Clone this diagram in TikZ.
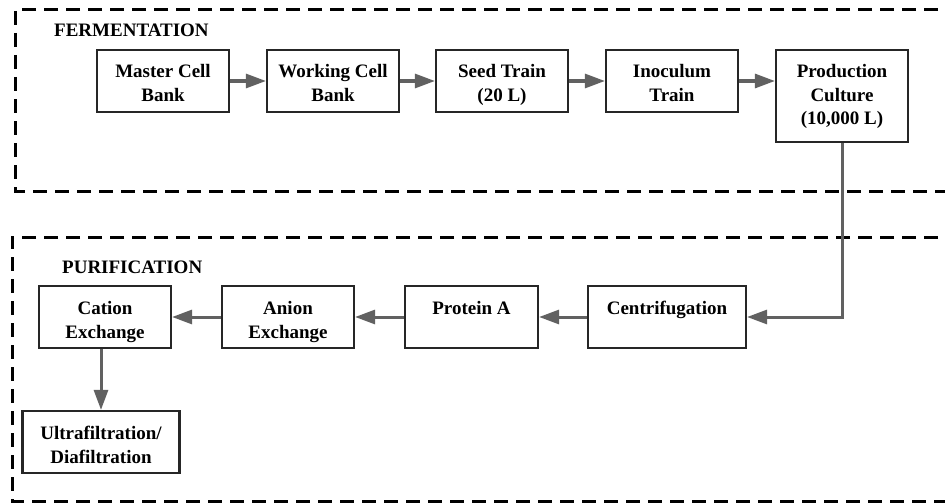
\documentclass[tikz,border=0pt]{standalone}
\usepackage{fontspec}
\setmainfont{Liberation Serif}
\usetikzlibrary{arrows.meta,calc}
\begin{document}
\begin{tikzpicture}[x=1pt,y=-1pt,
  stagebox/.style={draw=black!85, line width=2.2pt, minimum width=132pt, minimum height=62pt, inner sep=0pt},
  stagetext/.style={anchor=north, align=center, inner sep=0pt, font=\fontsize{19}{23.5}\selectfont\bfseries},
  flow/.style={draw=black!62, line width=3pt, -{Triangle[length=20pt,width=14pt]}},
  groupframe/.style={draw=black, line width=3pt, dash pattern=on 14pt off 8pt},
  grouplabel/.style={anchor=base west, inner sep=0pt, font=\fontsize{19}{23.5}\selectfont\bfseries}]
\useasboundingbox (0,0) rectangle (945,503);
\clip (0,0) rectangle (945,503);
\fill[white] (0,0) rectangle (945,503);

% group frames
\draw[groupframe] (960,10) -- (15,10) -- (15,191) -- (960,191);
\draw[groupframe] (960,237) -- (12,237) -- (12,501) -- (960,501);
\node[grouplabel] (lfer) at (54,37) {FERMENTATION};
\node[grouplabel] (lpur) at (62,273) {PURIFICATION};

% fermentation boxes
\node[stagebox] (mcb) at (163,81) {};
\node[stagebox] (wcb) at (333,81) {};
\node[stagebox] (seed) at (502,81) {};
\node[stagebox] (inoc) at (672,81) {};
\node[stagebox, minimum height=92pt] (prod) at (842,96) {};

\node[stagetext] (tmcb) at ($(mcb.north)+(0,12)$) {\strut Master Cell\\Bank};
\node[stagetext] (twcb) at ($(wcb.north)+(0,12)$) {\strut Working Cell\\Bank};
\node[stagetext] (tseed) at ($(seed.north)+(0,12)$) {\strut Seed Train\\(20 L)};
\node[stagetext] (tinoc) at ($(inoc.north)+(0,12)$) {\strut Inoculum\\Train};
\node[stagetext] (tprod) at ($(prod.north)+(0,12)$) {\strut Production\\Culture\\(10,000 L)};

% purification boxes
\node[stagebox, minimum width=158pt] (cent) at (667,317) {};
\node[stagebox, minimum width=133pt] (prota) at (471.5,317) {};
\node[stagebox] (anion) at (288,317) {};
\node[stagebox] (cation) at (105,317) {};
\node[stagebox, minimum width=157pt] (uf) at (101,442) {};

\node[stagetext] (tcent) at ($(cent.north)+(0,13)$) {\strut Centrifugation};
\node[stagetext] (tprota) at ($(prota.north)+(0,13)$) {\strut Protein A};
\node[stagetext] (tanion) at ($(anion.north)+(0,13)$) {\strut Anion\\Exchange};
\node[stagetext] (tcation) at ($(cation.north)+(0,13)$) {\strut Cation\\Exchange};
\node[stagetext] (tuf) at ($(uf.north)+(0,13)$) {\strut Ultrafiltration/\\Diafiltration};

% connectors
\draw[flow] (mcb) -- (wcb);
\draw[flow] (wcb) -- (seed);
\draw[flow] (seed) -- (inoc);
\draw[flow] (inoc.east) -- (inoc.east -| prod.west);
\draw[flow] (prod.south) -- (prod.south |- cent.east) -- (cent.east);
\draw[flow] (cent) -- (prota);
\draw[flow] (prota) -- (anion);
\draw[flow] (anion) -- (cation);
\draw[flow] (uf.north |- cation.south) -- (uf.north);
\end{tikzpicture}
\end{document}
